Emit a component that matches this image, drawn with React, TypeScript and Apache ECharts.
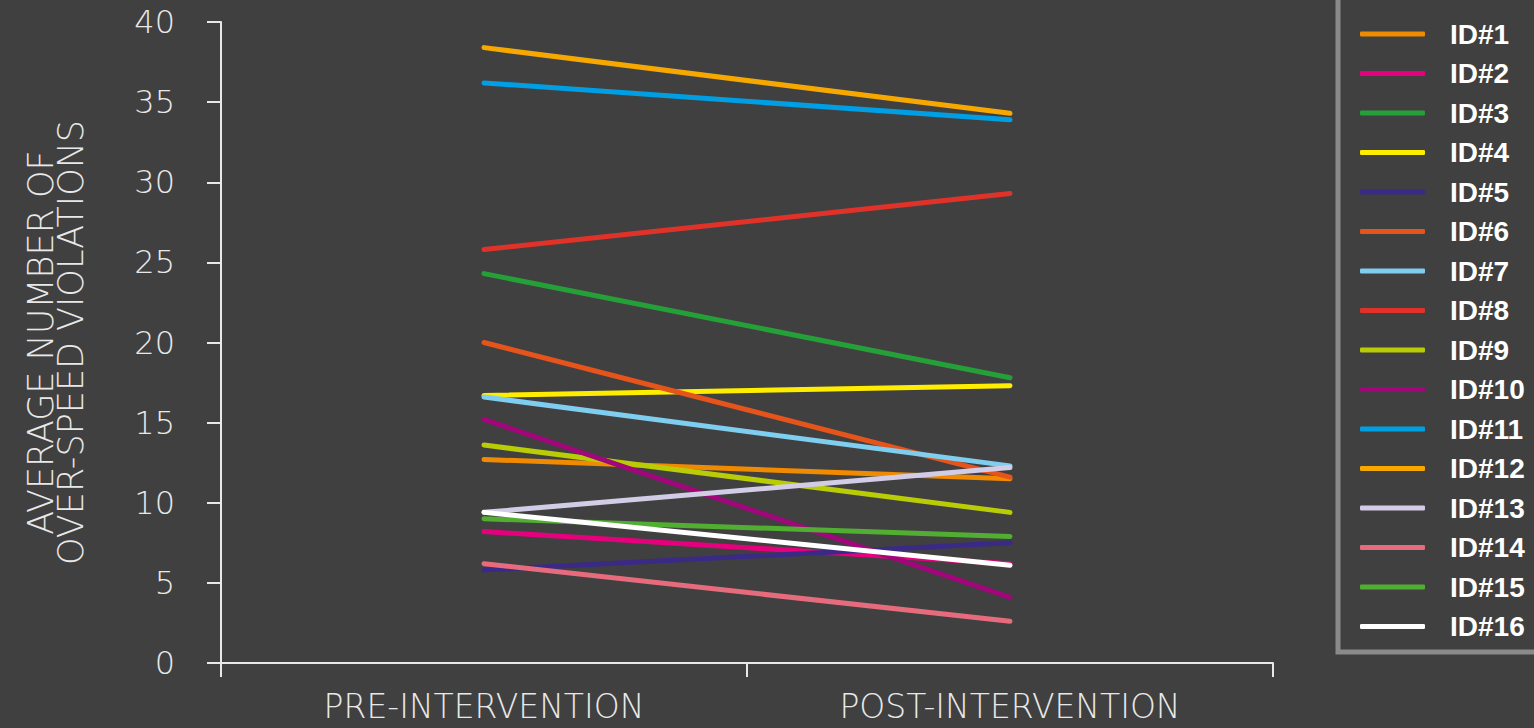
import React, { useEffect, useRef } from "react";
import * as echarts from "echarts";

const categories = ["PRE-INTERVENTION", "POST-INTERVENTION"];
const seriesNames = [
  "ID#1", "ID#2", "ID#3", "ID#4", "ID#5", "ID#6", "ID#7", "ID#8",
  "ID#9", "ID#10", "ID#11", "ID#12", "ID#13", "ID#14", "ID#15", "ID#16",
];
const preValues = [12.7, 8.2, 24.3, 16.7, 5.8, 20.0, 16.6, 25.8, 13.6, 15.2, 36.2, 38.4, 9.4, 6.2, 9.0, 9.4];
const postValues = [11.5, 6.2, 17.8, 17.3, 7.5, 11.6, 12.3, 29.3, 9.4, 4.1, 33.9, 34.3, 12.2, 2.6, 7.9, 6.1];
const colors = [
  "#F08A00", "#E5007D", "#25A038", "#FFED00", "#3B2A85", "#E5541B", "#7FCDEF", "#E1322A",
  "#B9CC06", "#A1067A", "#009FE3", "#F6A800", "#D3CCE6", "#E66B7D", "#52AE32", "#FFFFFF",
];
const yTicks = [0, 5, 10, 15, 20, 25, 30, 35, 40];

export default function App() {
  const ref = useRef<HTMLDivElement>(null);
  useEffect(() => {
    if (!ref.current) return;
    const chart = echarts.init(ref.current, null, { renderer: "svg" });
    const lightFont = "'DejaVu Sans', sans-serif";
    chart.setOption({
      animation: false,
      backgroundColor: "#404040",
      grid: { left: 221, right: 261, top: 22, bottom: 65 },
      legend: {
        orient: "vertical",
        left: 1355,
        top: 15,
        icon: "roundRect",
        itemWidth: 65,
        itemHeight: 5,
        itemGap: 11.5,
        data: seriesNames,
        textStyle: {
          color: "#ffffff",
          fontSize: 28,
          lineHeight: 28,
          fontWeight: "bold",
          fontFamily: "'Liberation Sans', Arial, sans-serif",
          padding: [0, 0, 0, 20],
        },
      },
      graphic: [
        {
          type: "rect",
          shape: { x: 1338, y: -10, width: 300, height: 662 },
          style: { fill: "none", stroke: "#8a8a8a", lineWidth: 5 },
          silent: true,
        },
      ],
      xAxis: {
        type: "category",
        data: categories,
        boundaryGap: true,
        axisLine: { lineStyle: { color: "#e8e8e8", width: 2 } },
        axisTick: { show: true, length: 14, inside: false, lineStyle: { color: "#e8e8e8", width: 2 } },
        axisLabel: {
          color: "#e8e8e8",
          fontSize: 33,
          lineHeight: 28,
          fontFamily: lightFont,
          fontWeight: 200,
          margin: 29,
        },
        splitLine: { show: false },
      },
      yAxis: {
        type: "value",
        min: 0,
        max: 40,
        interval: 5,
        name: "AVERAGE NUMBER OF\nOVER-SPEED VIOLATIONS",
        nameLocation: "middle",
        nameRotate: 90,
        nameGap: 135,
        nameTextStyle: { color: "#e8e8e8", fontSize: 35, fontFamily: lightFont, fontWeight: 200, lineHeight: 30 },
        axisLine: { show: true, lineStyle: { color: "#e8e8e8", width: 2 } },
        axisTick: { show: true, length: 14, lineStyle: { color: "#e8e8e8", width: 2 } },
        axisLabel: {
          color: "#e8e8e8",
          fontSize: 32,
          fontFamily: lightFont,
          fontWeight: 200,
          margin: 46,
          formatter: (v: number) => (yTicks.includes(v) ? String(v) : ""),
        },
        splitLine: { show: false },
      },
      series: seriesNames.map((name, i) => ({
        name,
        type: "line",
        data: [preValues[i], postValues[i]],
        symbol: "none",
        showSymbol: false,
        color: colors[i],
        lineStyle: { color: colors[i], width: 5, cap: "round" },
        itemStyle: { color: colors[i] },
      })),
    });
    return () => chart.dispose();
  }, []);
  return (
    <div
      ref={ref}
      style={{ position: "fixed", left: 0, top: 0, width: 1534, height: 728 }}
    />
  );
}
